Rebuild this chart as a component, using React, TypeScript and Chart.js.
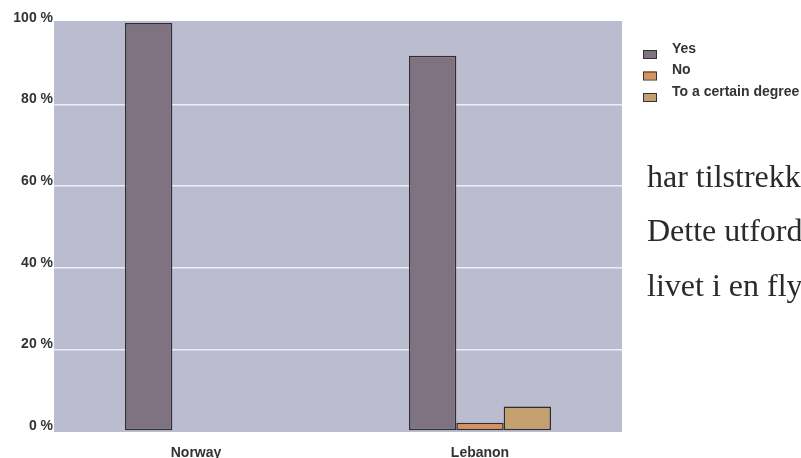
import React, { useEffect, useRef } from "react";
import { Chart, registerables } from "chart.js";

Chart.register(...registerables);

const categories = ["Norway", "Lebanon"];
const seriesNames = ["Yes", "No", "To a certain degree"];
const yesValues = [100, 92];
const noValues: (number | null)[] = [null, 2];
const certainValues: (number | null)[] = [null, 6];
const seriesColors = ["#7F7382", "#D9915E", "#C4A06E"];
const yTicks = [0, 20, 40, 60, 80, 100];
const sideText = ["har tilstrekk", "Dette utford", "livet i en fly"];

const FONT = "'Liberation Sans', Arial, Helvetica, sans-serif";

const bgPlugin = {
  id: "plotBg",
  beforeDraw(chart: any) {
    const { ctx, chartArea } = chart;
    ctx.save();
    ctx.fillStyle = "#BBBCD0";
    ctx.fillRect(chartArea.left, chartArea.top - 2, chartArea.right - chartArea.left, chartArea.bottom - chartArea.top + 3);
    ctx.restore();
  },
};

const legendPlugin = {
  id: "sideLegend",
  afterDraw(chart: any) {
    const { ctx } = chart;
    ctx.save();
    chart.data.datasets.forEach((ds: any, i: number) => {
      const rowY = 49 + i * 21.5;
      ctx.fillStyle = ds.backgroundColor;
      ctx.fillRect(643, rowY + 1, 13, 8);
      ctx.strokeStyle = "#333";
      ctx.lineWidth = 1;
      ctx.strokeRect(643.5, rowY + 1.5, 13, 8);
      ctx.fillStyle = "#333";
      ctx.font = "bold 14px " + FONT;
      ctx.textBaseline = "middle";
      ctx.textAlign = "left";
      ctx.fillText(ds.label, 672, rowY);
    });
    ctx.restore();
  },
};

export default function App() {
  const ref = useRef<HTMLCanvasElement | null>(null);

  useEffect(() => {
    if (!ref.current) return;
    const data = [yesValues, noValues, certainValues];
    const chart = new Chart(ref.current, {
      type: "bar",
      data: {
        labels: categories,
        datasets: seriesNames.map((name, i) => ({
          label: name,
          data: data[i],
          backgroundColor: seriesColors[i],
          borderColor: "#2e2e2e",
          borderWidth: 1.5,
          borderSkipped: false,
          categoryPercentage: 0.5,
          barPercentage: 1.0,
        })),
      },
      options: {
        responsive: false,
        animation: false,
        layout: { padding: { left: 0, right: 179, top: 23, bottom: 0 } },
        plugins: { legend: { display: false }, tooltip: { enabled: false } },
        scales: {
          x: {
            grid: { display: false, drawTicks: false },
            border: { display: false },
            ticks: {
              color: "#333",
              padding: 14,
              font: { family: FONT, size: 14, weight: "bold" },
            },
            afterFit: (s: any) => {
              s.height = 27;
            },
          },
          y: {
            min: 0,
            max: 100,
            afterBuildTicks: (s: any) => {
              s.ticks = yTicks.map((v) => ({ value: v }));
            },
            grid: {
              drawTicks: false,
              lineWidth: 1.5,
              color: (c: any) =>
                c.tick && (c.tick.value === 0 || c.tick.value === 100) ? "rgba(0,0,0,0)" : "#EEEEF4",
            },
            border: { display: false },
            ticks: {
              color: "#333",
              padding: 1,
              labelOffset: -5,
              callback: (v: any) => v + " %",
              font: { family: FONT, size: 14, weight: "bold" },
            },
            afterFit: (s: any) => {
              s.width = 54;
            },
          },
        },
      },
      plugins: [bgPlugin, legendPlugin],
    });
    return () => chart.destroy();
  }, []);

  return (
    <div
      style={{
        position: "absolute",
        left: 0,
        top: 0,
        width: 801,
        height: 458,
        overflow: "hidden",
        background: "#fff",
      }}
    >
      <canvas ref={ref} width={801} height={458} style={{ width: 801, height: 458, display: "block" }} />
      <div
        style={{
          position: "absolute",
          left: 647,
          top: 148.5,
          fontFamily: "'Liberation Serif', 'Times New Roman', serif",
          fontSize: 32,
          lineHeight: "54.5px",
          color: "#2a2a2a",
          whiteSpace: "nowrap",
        }}
      >
        {sideText.map((t) => (
          <div key={t}>{t}</div>
        ))}
      </div>
    </div>
  );
}
